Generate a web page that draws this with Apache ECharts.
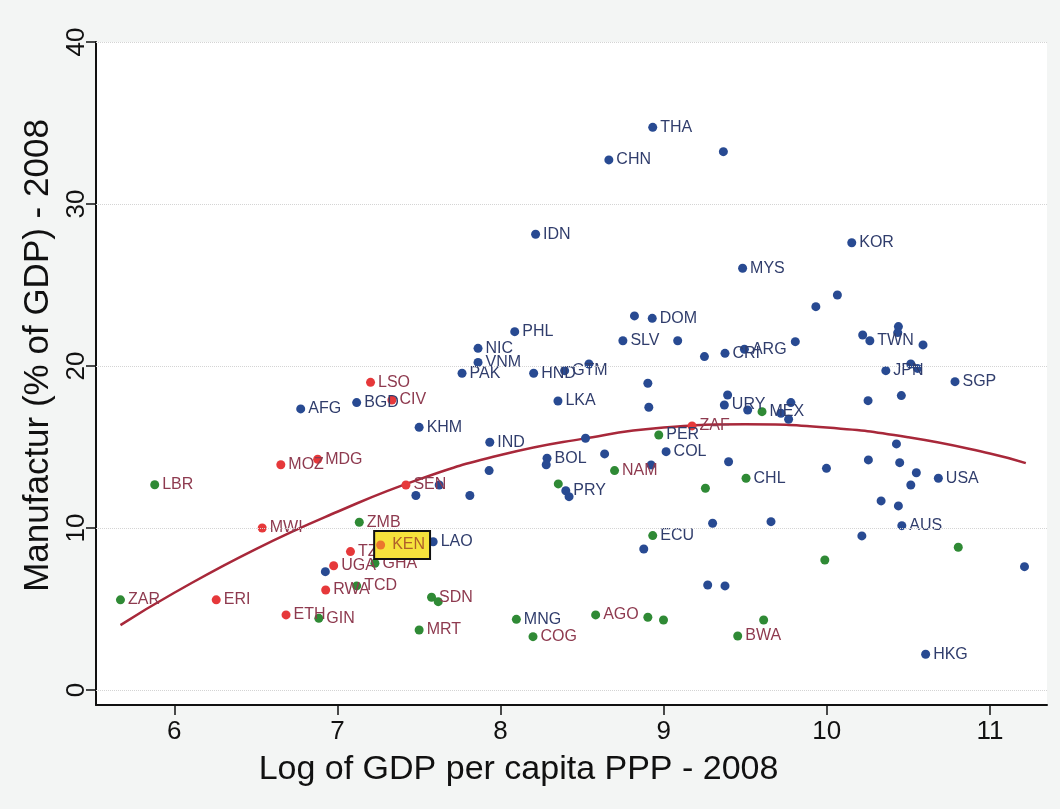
<!DOCTYPE html>
<html>
<head>
<meta charset="utf-8">
<script src="https://cdn.jsdelivr.net/npm/echarts@6/dist/echarts.min.js"></script>
<style>
html,body{margin:0;padding:0;background:#f3f5f4;}
#chart{width:1060px;height:809px;}
</style>
</head>
<body>
<div id="chart"></div>
<script>
// ---- data (log GDP per capita PPP 2008, manufacturing % of GDP 2008, country code) ----
const bluePoints = [
  [6.775,17.35,'AFG'],[7.118,17.74,'BGD'],[7.501,16.21,'KHM'],[7.934,15.29,'IND'],
  [7.93,13.54,''],[7.624,12.65,''],[7.481,12.0,''],[7.812,12.0,''],[6.926,7.30,''],
  [7.587,9.15,'LAO'],[7.764,19.55,'PAK'],[7.862,21.09,'NIC'],[7.862,20.22,'VNM'],
  [8.087,22.12,'PHL'],[8.203,19.55,'HND'],[8.393,19.71,'GTM'],[8.542,20.12,''],
  [8.352,17.84,'LKA'],[8.521,15.54,''],[8.285,14.3,'BOL'],[8.28,13.9,''],
  [8.40,12.3,'PRY'],[8.42,11.93,''],[8.215,28.13,'IDN'],[8.664,32.72,'CHN'],
  [8.933,34.73,'THA'],[9.366,33.23,''],[9.484,26.03,'MYS'],[8.821,23.09,''],
  [8.93,22.94,'DOM'],[8.75,21.56,'SLV'],[9.086,21.56,''],[9.25,20.58,''],
  [9.376,20.78,'CRI'],[9.495,21.03,'ARG'],[9.807,21.5,''],[9.933,23.66,''],
  [10.065,24.38,''],[10.153,27.61,'KOR'],[8.903,18.93,''],[8.909,17.45,''],
  [9.392,18.21,''],[9.372,17.59,'URY'],[9.515,17.28,''],[9.78,17.74,''],
  [9.719,17.08,''],[9.766,16.71,''],[9.015,14.71,'COL'],[8.638,14.57,''],
  [8.923,13.89,''],[9.398,14.09,''],[9.998,13.68,''],[9.30,10.29,''],
  [9.658,10.39,''],[8.878,8.70,''],[9.27,6.48,''],[9.376,6.42,''],
  [10.22,21.91,''],[10.264,21.56,'TWN'],[10.439,22.43,''],[10.435,22.06,''],
  [10.59,21.3,''],[10.362,19.71,'JPN'],[10.515,20.12,''],[10.556,19.85,''],
  [10.786,19.03,'SGP'],[10.253,17.86,''],[10.457,18.17,''],[10.427,15.19,''],
  [10.255,14.2,''],[10.447,14.03,''],[10.549,13.41,''],[10.515,12.65,''],
  [10.684,13.07,'USA'],[10.333,11.67,''],[10.439,11.36,''],[10.46,10.14,'AUS'],
  [10.215,9.51,''],[11.212,7.61,''],[10.606,2.2,'HKG']
];
const redPoints = [
  [7.203,18.99,'LSO'],[7.334,17.9,'CIV'],[6.653,13.9,'MOZ'],[6.879,14.24,'MDG'],
  [7.42,12.65,'SEN'],[6.539,10.0,'MWI'],[7.08,8.54,'TZA'],[7.265,8.95,'KEN'],
  [6.977,7.67,'UGA'],[6.928,6.17,'RWA'],[6.257,5.56,'ERI'],[6.685,4.63,'ETH'],
  [9.174,16.3,'ZAF']
];
const greenPoints = [
  [5.88,12.67,'LBR'],[5.67,5.56,'ZAR'],[6.886,4.42,'GIN'],[7.134,10.35,'ZMB'],
  [7.23,7.82,'GHA'],[7.118,6.42,'TCD'],[7.577,5.72,'SDN'],[7.618,5.45,''],
  [7.501,3.70,'MRT'],[8.097,4.36,'MNG'],[8.199,3.29,'COG'],[8.354,12.72,''],
  [8.699,13.54,'NAM'],[8.97,15.74,'PER'],[9.603,17.18,'MEX'],[9.256,12.45,''],
  [9.505,13.07,'CHL'],[8.933,9.53,'ECU'],[8.583,4.63,'AGO'],[8.903,4.49,''],
  [8.999,4.32,''],[9.613,4.32,''],[9.454,3.33,'BWA'],[9.988,8.02,''],[10.806,8.81,'']
];
// fitted quadratic curve
const fitX = [5.67,6.0,6.5,7.0,7.5,8.0,8.5,9.0,9.5,10.0,10.5,11.0,11.22];
const fitY = [4.0,6.0,8.7,11.0,13.0,14.5,15.5,16.2,16.4,16.2,15.6,14.6,14.0];
const xTicks = [6,7,8,9,10,11];
const yTicks = [0,10,20,30,40];
const highlighted = 'KEN';

// ---- styles ----
const FONT = 'Liberation Sans, Arial, sans-serif';
const NAVY = '#303d6c', MAROON = '#8e3a4f';
const navyLabelGreens = ['ECU','CHL','PER','MNG','MEX'];

function buildData(points, defaultLabelColor) {
  return points.map(p => {
    const item = {value: [p[0], p[1], p[2]]};
    let col = defaultLabelColor;
    if (navyLabelGreens.indexOf(p[2]) >= 0) col = NAVY;
    item.label = {color: col};
    if (p[2] === highlighted) {
      item.label = {
        color: '#b0602a', backgroundColor: '#f6e23c', borderColor: '#111',
        borderWidth: 2, padding: [5, 4, 5, 17], distance: -10
      };
    }
    return item;
  });
}

function scatter(name, points, color, labelColor) {
  return {
    name, type: 'scatter', symbol: 'circle', symbolSize: 9, z: 2,
    itemStyle: {color: color, opacity: 1},
    data: buildData(points, labelColor),
    label: {
      show: true, position: 'right', distance: 3,
      formatter: p => p.value[2] || '',
      fontFamily: FONT, fontSize: 16, color: labelColor
    },
    emphasis: {disabled: true}
  };
}

const fitData = fitX.map((x, i) => [x, fitY[i]]);
const hiPoint = redPoints.filter(p => p[2] === highlighted).map(p => [p[0], p[1]]);

const chart = echarts.init(document.getElementById('chart'), null, {renderer: 'canvas'});
chart.setOption({
  animation: false,
  backgroundColor: '#f3f5f4',
  grid: {left: 96, right: 13, top: 42, bottom: 104, show: true, backgroundColor: '#ffffff', borderWidth: 0},
  xAxis: {
    type: 'value', min: 5.52, max: 11.35,
    name: 'Log of GDP per capita PPP - 2008', nameLocation: 'middle', nameGap: 48,
    nameTextStyle: {fontFamily: FONT, fontSize: 34, color: '#111', padding: [0, 106, 0, 0]},
    axisLine: {show: true, onZero: false, lineStyle: {color: '#111', width: 2}},
    axisTick: {show: true, length: 10, customValues: xTicks, lineStyle: {color: '#111', width: 1.5}},
    axisLabel: {customValues: xTicks, fontFamily: FONT, fontSize: 26, margin: 14, color: '#111'},
    splitLine: {show: false}
  },
  yAxis: {
    type: 'value', min: -0.93, max: 40,
    name: 'Manufactur (% of GDP) - 2008', nameLocation: 'middle', nameGap: 28, nameRotate: 90,
    nameTextStyle: {fontFamily: FONT, fontSize: 35, color: '#111', padding: [0, 0, 0, 36]},
    axisLine: {show: true, onZero: false, lineStyle: {color: '#111', width: 2}},
    axisTick: {show: true, length: 10, customValues: yTicks, lineStyle: {color: '#111', width: 1.5}},
    axisLabel: {customValues: yTicks, rotate: 90, fontFamily: FONT, fontSize: 26, margin: 6, color: '#111'},
    splitLine: {show: false}
  },
  series: [
    {
      name: 'fit', type: 'line', data: fitData, smooth: true, showSymbol: false, z: 1,
      lineStyle: {color: '#a8283a', width: 2.5},
      markLine: {
        silent: true, symbol: 'none', label: {show: false},
        lineStyle: {color: '#d4d4d4', type: 'dotted', width: 1},
        data: yTicks.map(v => ({yAxis: v}))
      }
    },
    scatter('blue', bluePoints, '#284a92', NAVY),
    scatter('green', greenPoints, '#2f8a35', MAROON),
    scatter('red', redPoints, '#e6383a', MAROON),
    {
      name: 'hi', type: 'scatter', symbol: 'circle', symbolSize: 9, z: 5,
      itemStyle: {color: '#e85a2a'}, data: hiPoint, emphasis: {disabled: true}
    }
  ]
});
</script>
</body>
</html>
